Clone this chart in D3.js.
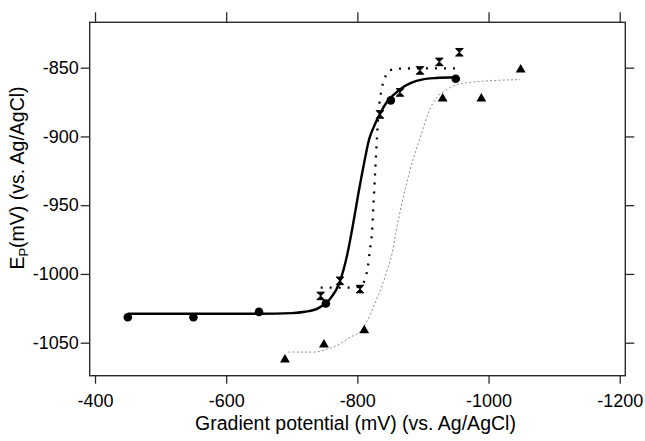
<!DOCTYPE html>
<html>
<head>
<meta charset="utf-8">
<script src="https://cdn.jsdelivr.net/npm/d3@7"></script>
<style>
  body { margin: 0; background: #fff; }
  svg { display: block; }
</style>
</head>
<body>
<div id="chart"></div>
<script>
// measured points
const circleX = [-450, -550, -650, -752, -851, -950];
const circleY = [-1031.5, -1031.5, -1027.6, -1021.5, -873.8, -858];
const hourX = [-744, -773.5, -804, -834.5, -865, -895.5, -925, -955.5];
const hourY = [-1016, -1005, -1011, -884, -868, -852, -845.8, -838.8];
const triX = [-689.6, -749, -810.5, -930, -989, -1049];
const triY = [-1062.3, -1051.4, -1041, -872.6, -872.6, -851.5];

// fitted curves
const fitCircleX = [-450, -650, -700, -720, -740, -757, -773, -785, -793, -801, -810, -818, -826, -835, -845, -857, -870, -882, -900, -920, -950];
const fitCircleY = [-1029, -1029, -1028.5, -1027.5, -1025, -1019, -1006, -985, -965, -943, -920, -902, -892, -883, -875, -869, -864, -861, -858.5, -857.5, -857];
const fitHourX = [-744, -790, -805, -812, -816, -819, -822.3, -824.5, -827.2, -830, -832.5, -834.5, -837, -841, -849, -865, -900, -952];
const fitHourY = [-1010, -1010, -1009, -1003, -995, -983, -970, -950, -925, -900, -880.6, -873, -865.5, -858.7, -852, -850.7, -850.5, -850.5];
const fitTriX = [-694.7, -735, -755.6, -769.4, -789, -804, -814, -828, -838, -845.6, -853, -858.4, -865, -872, -880, -888, -895, -900.4, -908, -920.7, -936, -951, -966.6, -987, -1048];
const fitTriY = [-1056.8, -1056.8, -1054.3, -1052, -1046, -1042, -1035, -1020, -1008, -997, -985, -970.5, -955, -940, -925, -912, -902, -894, -883, -872, -866, -862.4, -861, -860, -858.7];

const xTicks = [-400, -600, -800, -1000, -1200];
const yTicks = [-850, -900, -950, -1000, -1050];

const W = 645, H = 441;
const box = { left: 89.7, right: 625.3, top: 22.3, bottom: 375.7 };
const font = "'Liberation Sans', Arial, sans-serif";
const axisColor = "#2a2a2a";

var svg = d3.select('#chart').append('svg')
    .attr('width', W)
    .attr('height', H);

var x = d3.scaleLinear().domain([-391.9, -1208.5]).range([box.left, box.right]);
var y = d3.scaleLinear().domain([-817, -1074]).range([box.top, box.bottom]);

function zip(a, b) { return a.map((v, i) => [v, b[i]]); }

// axes
function styleAxis(g) {
    g.select('.domain').remove();
    g.selectAll('line').attr('stroke', axisColor).attr('stroke-width', 1.3);
    g.selectAll('text').attr('fill', '#000').style('font', `18px ${font}`);
}

svg.append('g')
    .attr('transform', `translate(0,${box.bottom})`)
    .call(d3.axisBottom(x).tickValues(xTicks).tickSize(8).tickPadding(11).tickSizeOuter(0).tickFormat(d3.format('d')))
    .call(styleAxis);
svg.append('g')
    .attr('transform', `translate(0,${box.top})`)
    .call(d3.axisTop(x).tickValues(xTicks).tickSize(10).tickFormat('').tickSizeOuter(0))
    .call(styleAxis);
svg.append('g')
    .attr('transform', `translate(${box.left},0)`)
    .call(d3.axisLeft(y).tickValues(yTicks).tickSize(9).tickPadding(2).tickSizeOuter(0).tickFormat(d3.format('d')))
    .call(styleAxis);
svg.append('g')
    .attr('transform', `translate(${box.right},0)`)
    .call(d3.axisRight(y).tickValues(yTicks).tickSize(9).tickFormat('').tickSizeOuter(0))
    .call(styleAxis);

svg.selectAll('text').filter(function () { return this.textContent.length; })
    .text(function () { return this.textContent.replace('−', '-'); });

svg.append('rect')
    .attr('x', box.left).attr('y', box.top)
    .attr('width', box.right - box.left).attr('height', box.bottom - box.top)
    .attr('fill', 'none').attr('stroke', axisColor).attr('stroke-width', 1.4);

// curves
var line = d3.line()
    .x(d => x(d[0]))
    .y(d => y(d[1]))
    .curve(d3.curveMonotoneX);

svg.append('path')
    .datum(zip(fitTriX, fitTriY))
    .attr('d', line)
    .attr('fill', 'none')
    .attr('stroke', '#8a8a8a')
    .attr('stroke-width', 1)
    .attr('stroke-dasharray', '2,2.2');

svg.append('path')
    .datum(zip(fitHourX, fitHourY))
    .attr('d', line)
    .attr('fill', 'none')
    .attr('stroke', '#000')
    .attr('stroke-width', 2.3)
    .attr('stroke-dasharray', '2,7');

svg.append('path')
    .datum(zip(fitCircleX, fitCircleY))
    .attr('d', line)
    .attr('fill', 'none')
    .attr('stroke', '#000')
    .attr('stroke-width', 2.4);

// markers
svg.selectAll('circle.pt')
    .data(zip(circleX, circleY))
    .enter().append('circle')
    .attr('class', 'pt')
    .attr('cx', d => x(d[0]))
    .attr('cy', d => y(d[1]))
    .attr('r', 4.3)
    .attr('fill', '#000');

svg.selectAll('path.hour')
    .data(zip(hourX, hourY))
    .enter().append('path')
    .attr('class', 'hour')
    .attr('d', 'M-3.8,-3.8H3.8L0,0ZM-3.8,3.8H3.8L0,0Z')
    .attr('transform', d => `translate(${x(d[0])},${y(d[1])})`)
    .attr('fill', '#000')
    .attr('stroke', '#000')
    .attr('stroke-width', 1);

svg.selectAll('path.tri')
    .data(zip(triX, triY))
    .enter().append('path')
    .attr('class', 'tri')
    .attr('d', d3.symbol().type(d3.symbolTriangle).size(42))
    .attr('transform', d => `translate(${x(d[0])},${y(d[1])})`)
    .attr('fill', '#000');

// titles
svg.append('text')
    .attr('x', 355.5)
    .attr('y', 430)
    .attr('text-anchor', 'middle')
    .style('font', `19.5px ${font}`)
    .text('Gradient potential (mV) (vs. Ag/AgCl)');

var yt = svg.append('text')
    .attr('transform', 'translate(24,178) rotate(-90)')
    .attr('text-anchor', 'middle')
    .style('font', `19.5px ${font}`);
yt.append('tspan').text('E');
yt.append('tspan').attr('dy', 4).style('font-size', '13px').text('P');
yt.append('tspan').attr('dy', -4).text('(mV) (vs. Ag/AgCl)');
</script>
</body>
</html>
